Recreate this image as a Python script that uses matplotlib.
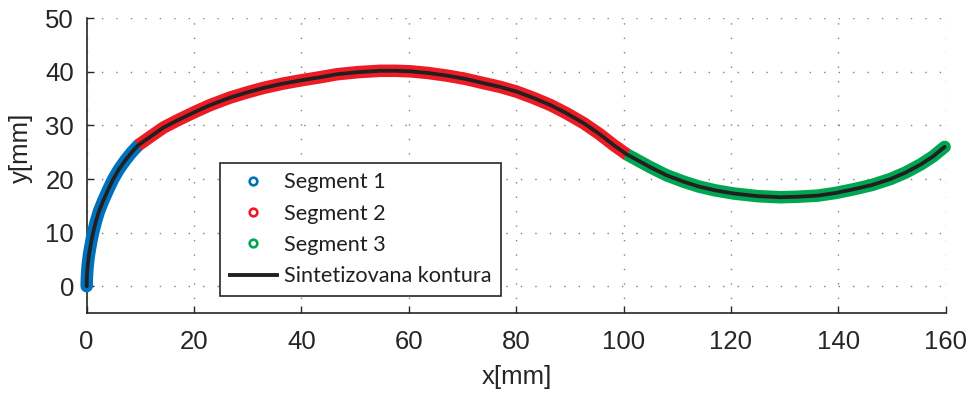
import numpy as np
import matplotlib.pyplot as plt
from matplotlib.lines import Line2D

# points, one list per segment [mm]
seg1_x = [0.0, 0.02, 0.06, 0.12, 0.2, 0.32, 0.45, 0.62, 0.8, 0.98, 1.2,
          1.7, 2.3, 3.1, 4.0, 4.9, 6.0, 7.2, 8.4, 9.6]
seg1_y = [0.0, 1.0, 2.0, 3.0, 4.0, 5.0, 6.0, 7.0, 8.0, 9.0, 10.0,
          12.0, 14.0, 16.0, 18.0, 19.9, 21.8, 23.5, 25.0, 26.3]

seg2_x = [9.6, 12.0, 14.3, 17.0, 19.9, 23.0, 26.7, 30.0, 32.9, 36.5, 40.1,
          43.5, 46.6, 50.5, 54.7, 57.5, 60.3, 63.5, 67.1, 70.5, 73.9, 77.0,
          80.1, 83.3, 86.4, 89.5, 92.6, 95.5, 98.2, 100.6]
seg2_y = [26.3, 28.0, 29.6, 31.0, 32.4, 33.8, 35.2, 36.2, 37.0, 37.8, 38.45,
          39.0, 39.55, 39.95, 40.2, 40.2, 40.1, 39.8, 39.3, 38.7, 37.9, 37.2,
          36.3, 35.1, 33.8, 32.2, 30.4, 28.4, 26.3, 24.6]

seg3_x = [100.6, 102.8, 105.0, 108.0, 111.2, 114.0, 117.0, 120.5, 125.0,
          129.2, 132.5, 136.1, 139.5, 142.9, 146.3, 149.7, 152.5, 155.3,
          157.6, 159.8]
seg3_y = [24.6, 23.4, 22.2, 20.7, 19.5, 18.6, 17.9, 17.3, 16.8,
          16.6, 16.7, 16.9, 17.4, 18.1, 18.9, 20.0, 21.2, 22.7,
          24.2, 26.0]

labels = ['Segment 1', 'Segment 2', 'Segment 3', 'Sintetizovana kontura']
colors = ['#0072BD', '#ED1C24', '#00A651']
contour_color = '#231F20'

plt.rcParams['font.family'] = ['Liberation Sans', 'DejaVu Sans']

fig = plt.figure(figsize=(9.76, 3.94), dpi=100)
ax = fig.add_axes([0.0888, 0.2056, 0.8802, 0.748])

band = dict(lw=9.0, solid_joinstyle='round')
ax.plot(seg1_x, seg1_y, color=colors[0], solid_capstyle='round', clip_on=False, zorder=3, **band)
ax.plot(seg3_x, seg3_y, color=colors[2], solid_capstyle='round', clip_on=False, zorder=3, **band)
ax.plot(seg2_x, seg2_y, color=colors[1], solid_capstyle='butt', clip_on=False, zorder=4, **band)

kx = seg1_x + seg2_x[1:] + seg3_x[1:]
ky = seg1_y + seg2_y[1:] + seg3_y[1:]
ax.plot(kx, ky, color=contour_color, lw=2.7, solid_capstyle='round',
        solid_joinstyle='round', clip_on=False, zorder=5)

ax.set_xlim(0, 160)
ax.set_ylim(-5, 50)
ax.set_xticks(np.arange(0, 161, 20))
ax.set_yticks(np.arange(0, 51, 10))

ax.grid(True, color='#808080', linestyle=(0, (1, 9.4)), linewidth=1.0)
ax.set_axisbelow(True)

for side in ['top', 'right']:
    ax.spines[side].set_visible(False)
for side in ['left', 'bottom']:
    ax.spines[side].set_color('#262626')
    ax.spines[side].set_linewidth(1.2)

ax.tick_params(direction='in', length=5, width=1.0, color='#262626',
               labelsize=18.5, labelcolor='#262626')
ax.tick_params(axis='x', pad=12)
ax.tick_params(axis='y', pad=9)

ax.set_xlabel('x[mm]', fontsize=18.5, color='#262626')
ax.set_ylabel('y[mm]', fontsize=18.5, color='#262626')
ax.xaxis.set_label_coords(0.501, -0.175)
ax.yaxis.set_label_coords(-0.062, 0.561)

handles = [Line2D([], [], ls='none', marker='o', ms=5.5, mew=1.9,
                  mec=c, mfc='white') for c in colors]
handles.append(Line2D([], [], color=contour_color, lw=2.8))
leg = ax.legend(handles, labels, loc='lower left', bbox_to_anchor=(0.155, 0.058),
                prop={'family': 'Lato', 'size': 15.6}, frameon=True, fancybox=False,
                edgecolor='#262626', framealpha=1, handlelength=2.2,
                handletextpad=0.3, labelspacing=0.52, borderpad=0.45,
                borderaxespad=0)
leg.get_frame().set_linewidth(1.2)
for t in leg.get_texts():
    t.set_color('#231F20')

fig.savefig('out.png', dpi=100)
